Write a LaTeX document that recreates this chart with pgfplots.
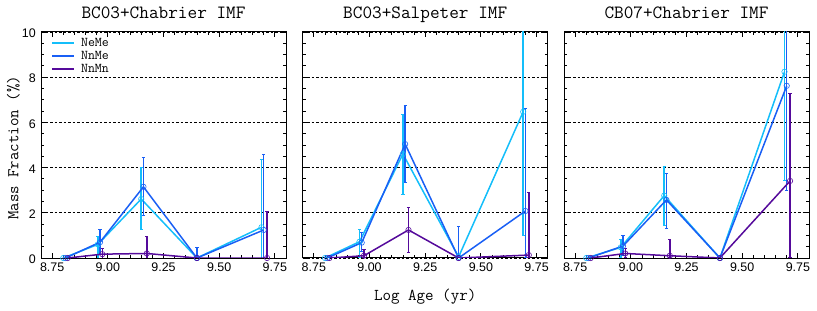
\documentclass[border=0pt]{standalone}
\usepackage{fontspec}
\usepackage{pgfplots}
\usepackage{pgfplotstable}
\pgfplotsset{compat=1.18}
\newfontfamily\ticksfont{Liberation Sans}
\newfontfamily\hmono{Latin Modern Mono}
\newcommand\lgd{\hmono\fontsize{13.5}{13.5}\selectfont}
\newcommand\ylf{\hmono\fontsize{16.5}{16.5}\selectfont}
\newcommand\xlf{\hmono\fontsize{16.6}{16.6}\selectfont}
\newcommand\ttf{\hmono\fontsize{18.8}{18.8}\selectfont}
\definecolor{neme}{RGB}{20,190,250}
\definecolor{nnme}{RGB}{25,95,245}
\definecolor{nnmn}{RGB}{85,10,155}

\pgfplotstableread{
x1 y1 p1 m1 x2 y2 p2 m2 x3 y3 p3 m3
8.800 0 0 0 8.810 0 0 0 8.820 0 0 0
8.955 0.60 0.34 0.60 8.965 0.70 0.57 0.55 8.975 0.17 0.26 0.17
9.150 2.61 1.39 1.34 9.160 3.15 1.30 1.25 9.175 0.20 0.76 0.20
9.400 0 0 0 9.400 0 0.47 0 9.400 0 0 0
9.690 1.36 3.01 1.36 9.700 1.24 3.32 1.24 9.715 0 2.05 0
}\tabA
\pgfplotstableread{
x1 y1 p1 m1 x2 y2 p2 m2 x3 y3 p3 m3
8.800 0 0 0 8.810 0 0 0 8.820 0 0 0
8.955 0.72 0.52 0.72 8.965 0.68 0.44 0.40 8.975 0.10 0.28 0.10
9.150 4.60 1.76 1.78 9.160 5.04 1.72 1.71 9.175 1.24 1.00 1.01
9.400 0.05 0 0 9.400 0 1.40 0 9.400 0 0 0
9.690 6.47 3.60 5.48 9.700 2.08 4.52 2.08 9.715 0.13 2.77 0.13
}\tabB
\pgfplotstableread{
x1 y1 p1 m1 x2 y2 p2 m2 x3 y3 p3 m3
8.800 0 0 0 8.810 0 0 0 8.820 0 0 0
8.955 0.47 0.33 0.47 8.965 0.53 0.46 0.40 8.975 0.20 0.23 0.20
9.150 2.76 1.28 1.33 9.160 2.57 1.18 1.26 9.175 0.10 0.74 0.10
9.400 0 0 0 9.400 0 0 0 9.400 0 0 0
9.690 8.24 5.00 4.79 9.700 7.62 5.00 4.62 9.715 3.41 3.88 3.41
}\tabC

\pgfplotsset{
  panel/.style={
    scale only axis, width=245bp, height=226bp, anchor=south west,
    xmin=8.7, xmax=9.8, ymin=0, ymax=10,
    xtick={8.75,9,9.25,9.5,9.75}, minor x tick num=4,
    ytick={0,2,...,10}, minor y tick num=3,
    major tick length=5bp, minor tick length=3bp,
    tick style={black, line width=0.8bp},
    axis line style={black, line width=1bp},
    ymajorgrids, grid style={black, line width=0.7bp, dash pattern=on 2.5bp off 2bp},
    /pgf/number format/assume math mode=true,
    tick label style={font=\ticksfont\fontsize{12.5}{12.5}\selectfont, inner sep=0pt},
    xticklabel style={/pgf/number format/fixed, /pgf/number format/fixed zerofill, /pgf/number format/precision=2, anchor=north, yshift=-4.3bp},
    yticklabel style={anchor=east, xshift=-5bp, yshift=-1.5bp},
    title style={at={(axis description cs:0.5,1.0354)}, anchor=base, inner sep=0pt},
    xlabel style={at={(axis description cs:0.5,-0.19)}, anchor=base, inner sep=0pt},
    ylabel style={at={(axis description cs:-0.0927,0.487)}, anchor=base, inner sep=0pt},
    every axis plot/.append style={line width=1.5bp, mark=o, mark size=2.7bp, mark options={line width=0.6bp},
      /pgfplots/error bars/y dir=both, /pgfplots/error bars/y explicit, /pgfplots/error bars/error mark=-,
      /pgfplots/error bars/error bar style={line width=1.5bp},
      /pgfplots/error bars/error mark options={rotate=90, mark size=1.6bp, line width=1bp}},
  },
  s1/.style={color=neme},
  s2/.style={color=nnme},
  s3/.style={color=nnmn},
}

\begin{document}
\begin{tikzpicture}
\useasboundingbox (0,0) rectangle (817bp,311bp);
% Panel 1
\begin{axis}[panel, at={(41bp,53bp)}, title={\ttf BC03+Chabrier IMF}, ylabel={\ylf Mass Fraction (\%)},
  legend style={at={(axis description cs:0.0396,0.98)}, anchor=north west, draw=none, fill=none,
    inner sep=0pt, row sep=0pt, column sep=5bp,
    nodes={inner sep=1bp, text height=9bp, text depth=2bp}},
  legend cell align=left,
  legend image code/.code={\draw[#1, line width=2.2bp, mark=none] (0bp,0bp) -- (22bp,0bp);}]
\addplot[s1] table[x=x1, y=y1, y error plus=p1, y error minus=m1] {\tabA};
\addlegendentry{\lgd NeMe}
\addplot[s2] table[x=x2, y=y2, y error plus=p2, y error minus=m2] {\tabA};
\addlegendentry{\lgd NnMe}
\addplot[s3] table[x=x3, y=y3, y error plus=p3, y error minus=m3] {\tabA};
\addlegendentry{\lgd NnMn}
\end{axis}
% Panel 2
\begin{axis}[panel, at={(302.7bp,53bp)}, title={\ttf BC03+Salpeter IMF}, xlabel={\xlf Log Age (yr)}, yticklabels={}]
\addplot[s1] table[x=x1, y=y1, y error plus=p1, y error minus=m1] {\tabB};
\addplot[s2] table[x=x2, y=y2, y error plus=p2, y error minus=m2] {\tabB};
\addplot[s3] table[x=x3, y=y3, y error plus=p3, y error minus=m3] {\tabB};
\end{axis}
% Panel 3
\begin{axis}[panel, at={(564bp,53bp)}, title={\ttf CB07+Chabrier IMF}, yticklabels={}]
\addplot[s1] table[x=x1, y=y1, y error plus=p1, y error minus=m1] {\tabC};
\addplot[s2] table[x=x2, y=y2, y error plus=p2, y error minus=m2] {\tabC};
\addplot[s3] table[x=x3, y=y3, y error plus=p3, y error minus=m3] {\tabC};
\end{axis}
\end{tikzpicture}
\end{document}
